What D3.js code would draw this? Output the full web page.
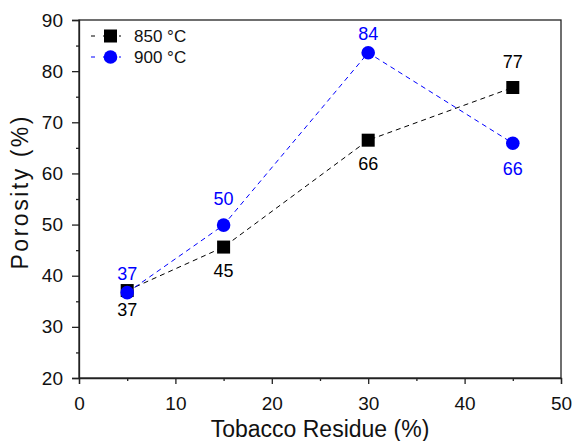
<!DOCTYPE html>
<html><head><meta charset="utf-8">
<script src="https://cdn.jsdelivr.net/npm/d3@7"></script>
<style>body{margin:0;background:#fff}svg{display:block}text{font-family:"Liberation Sans",Arial,sans-serif}</style>
</head><body><svg id="c" width="584" height="441"></svg>
<script>
const xValues = [5, 15, 30, 45];
const series850 = [37.1, 45.6, 66.5, 76.8];
const series900 = [36.7, 49.9, 83.6, 65.9];
const labels850 = ["37", "45", "66", "77"];
const labels900 = ["37", "50", "84", "66"];
const seriesNames = ["850 °C", "900 °C"];
const xTicks = [0, 10, 20, 30, 40, 50];
const yTicks = [20, 30, 40, 50, 60, 70, 80, 90];

const svg = d3.select("#c");
const L = 79, R = 561, T = 20, B = 378;
const x = d3.scaleLinear().domain([0, 50]).range([L, R]);
const y = d3.scaleLinear().domain([20, 90]).range([B, T]);
const FONT = '"Liberation Sans",Arial,sans-serif';

// frame
svg.append("rect").attr("x", L).attr("y", T).attr("width", R - L).attr("height", B - T)
  .attr("fill", "none").attr("stroke", "#222").attr("stroke-width", 1.3);

// axes
const gx = svg.append("g").attr("transform", `translate(0,${B})`)
  .call(d3.axisBottom(x).tickValues(xTicks).tickSize(6).tickPadding(8));
gx.selectAll(".tick text").attr("y", 32).attr("dy", 0);
svg.append("g").attr("transform", `translate(0,${B})`)
  .call(d3.axisBottom(x).tickValues(d3.range(5, 50, 10)).tickSize(3).tickFormat(""))
  .select(".domain").remove();
const gy = svg.append("g").attr("transform", `translate(${L},0)`)
  .call(d3.axisLeft(y).tickValues(yTicks).tickSize(7).tickPadding(9));
svg.append("g").attr("transform", `translate(${L},0)`)
  .call(d3.axisLeft(y).tickValues(d3.range(25, 90, 10)).tickSize(3).tickFormat(""))
  .select(".domain").remove();
svg.selectAll(".domain").attr("stroke", "#222").attr("stroke-width", 1.3);
svg.selectAll(".tick line").attr("stroke", "#222").attr("stroke-width", 1.3);
svg.selectAll(".tick text").attr("font-size", 19).attr("fill", "#111").style("font-family", FONT);

// titles
svg.append("text").attr("x", 320).attr("y", 437).attr("text-anchor", "middle")
  .attr("font-size", 23).attr("fill", "#111").text("Tobacco Residue (%)");
svg.append("text").attr("transform", `translate(28,${(T + B) / 2 - 6}) rotate(-90)`)
  .attr("text-anchor", "middle").attr("font-size", 23).attr("fill", "#111")
  .attr("textLength", 153).attr("lengthAdjust", "spacing").text("Porosity (%)");

const line = d3.line().x((d, i) => x(xValues[i])).y(d => y(d));
function drawSeries(vals, color, shape, labels, offsets) {
  svg.append("path").datum(vals).attr("d", line).attr("fill", "none")
    .attr("stroke", color).attr("stroke-width", 1).attr("stroke-dasharray", "5,4");
  const g = svg.append("g");
  vals.forEach((v, i) => {
    const cx = x(xValues[i]), cy = y(v);
    if (shape === "square") g.append("rect").attr("x", cx - 6.5).attr("y", cy - 6.5).attr("width", 13).attr("height", 13).attr("fill", color);
    else g.append("circle").attr("cx", cx).attr("cy", cy).attr("r", 6.8).attr("fill", color);
    g.append("text").attr("x", cx).attr("y", cy + offsets[i]).attr("text-anchor", "middle")
      .attr("font-size", 18).attr("fill", color).text(labels[i]);
  });
}
drawSeries(series850, "#000", "square", labels850, [25, 30, 30, -20]);
drawSeries(series900, "#0000ff", "circle", labels900, [-13, -20, -13, 32]);

// legend
const legend = [{name: seriesNames[0], color: "#000", shape: "square", yy: 36},
                {name: seriesNames[1], color: "#0000ff", shape: "circle", yy: 57}];
legend.forEach(d => {
  svg.append("line").attr("x1", 91).attr("x2", 131).attr("y1", d.yy).attr("y2", d.yy)
    .attr("stroke", d.color).attr("stroke-dasharray", "4,8,9,7,2,10");
  if (d.shape === "square") svg.append("rect").attr("x", 104).attr("y", d.yy - 6.5).attr("width", 13).attr("height", 13).attr("fill", d.color);
  else svg.append("circle").attr("cx", 110.5).attr("cy", d.yy).attr("r", 6.8).attr("fill", d.color);
  svg.append("text").attr("x", 134).attr("y", d.yy + 6).attr("font-size", 17).attr("fill", "#111").text(d.name);
});
</script></body></html>
